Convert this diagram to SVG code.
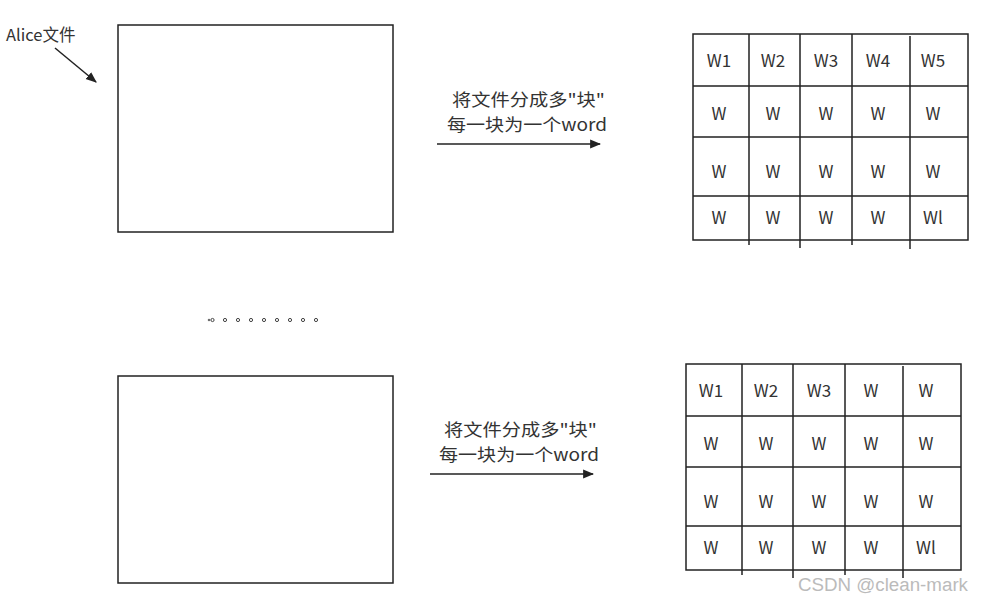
<svg xmlns="http://www.w3.org/2000/svg" width="982" height="602" viewBox="0 0 982 602">
<defs>
<style>
.box{fill:#fff;stroke:#222;stroke-width:1.5}
.ln{stroke:#222;stroke-width:1.5;fill:none}
.t{font-family:"Noto Sans CJK SC","Noto Sans",sans-serif;font-size:17px;fill:#333}
.lb{font-size:17px}
.c{text-anchor:middle;dominant-baseline:central}
.dot{fill:none;stroke:#444;stroke-width:1}
.wm{font-family:"Liberation Sans",Arial,sans-serif;font-size:18px;fill:#bbb}
</style>
<marker id="ah" viewBox="0 0 10 10" refX="9" refY="5" markerWidth="11" markerHeight="11" markerUnits="userSpaceOnUse" orient="auto">
<path d="M0,1 L10,5 L0,9 z" fill="#222"/>
</marker>
</defs>
<rect width="982" height="602" fill="#fff"/>

<g id="label-alice">
<text class="t" x="6" y="41" style="font-size:16.5px">Alice文件</text>
</g>

<g id="file1"><rect class="box" x="118" y="25" width="275" height="207"/></g>
<g id="file2"><rect class="box" x="118" y="376" width="275" height="207"/></g>

<g id="label1">
<text class="t lb" x="452" y="106" textLength="153" lengthAdjust="spacingAndGlyphs">将文件分成多"块"</text>
<text class="t lb" x="447" y="131" textLength="160" lengthAdjust="spacingAndGlyphs">每一块为一个word</text>
</g>
<g id="label2">
<text class="t lb" x="444" y="436" textLength="153" lengthAdjust="spacingAndGlyphs">将文件分成多"块"</text>
<text class="t lb" x="439" y="461" textLength="160" lengthAdjust="spacingAndGlyphs">每一块为一个word</text>
</g>

<g id="connectors">
<line class="ln" x1="55" y1="48" x2="96" y2="82" marker-end="url(#ah)"/>
<line class="ln" x1="437" y1="144" x2="600" y2="144" marker-end="url(#ah)"/>
<line class="ln" x1="430" y1="474" x2="593" y2="474" marker-end="url(#ah)"/>
</g>

<g id="dots">
<circle class="dot" cx="209" cy="320" r="0.8"/>
<circle class="dot" cx="212.5" cy="320" r="1.6"/>
<circle class="dot" cx="225" cy="320" r="1.6"/>
<circle class="dot" cx="238" cy="320" r="1.6"/>
<circle class="dot" cx="251" cy="320" r="1.6"/>
<circle class="dot" cx="264" cy="320" r="1.6"/>
<circle class="dot" cx="277" cy="320" r="1.6"/>
<circle class="dot" cx="290" cy="320" r="1.6"/>
<circle class="dot" cx="303" cy="320" r="1.6"/>
<circle class="dot" cx="316" cy="320" r="1.6"/>
</g>

<g id="grid1">
<rect class="box" x="693" y="34" width="275" height="206"/>
<path class="ln" d="M749,34V245M800,34V248M852,34V245M910,36V249M693,86H968M693,137H968M693,196H968"/>
<g class="t c">
<text x="719" y="59">W1</text><text x="773" y="59">W2</text><text x="826" y="59">W3</text><text x="878" y="59">W4</text><text x="933" y="59">W5</text>
<text x="719" y="112">W</text><text x="773" y="112">W</text><text x="826" y="112">W</text><text x="878" y="112">W</text><text x="933" y="112">W</text>
<text x="719" y="170">W</text><text x="773" y="170">W</text><text x="826" y="170">W</text><text x="878" y="170">W</text><text x="933" y="170">W</text>
<text x="719" y="216">W</text><text x="773" y="216">W</text><text x="826" y="216">W</text><text x="878" y="216">W</text><text x="933" y="216">Wl</text>
</g>
</g>

<g id="grid2">
<rect class="box" x="686" y="364" width="275" height="206"/>
<path class="ln" d="M742,364V575M793,364V578M845,364V575M903,366V578M686,416H961M686,467H961M686,526H961"/>
<g class="t c">
<text x="711" y="389">W1</text><text x="766" y="389">W2</text><text x="819" y="389">W3</text><text x="871" y="389">W</text><text x="926" y="389">W</text>
<text x="711" y="442">W</text><text x="766" y="442">W</text><text x="819" y="442">W</text><text x="871" y="442">W</text><text x="926" y="442">W</text>
<text x="711" y="500">W</text><text x="766" y="500">W</text><text x="819" y="500">W</text><text x="871" y="500">W</text><text x="926" y="500">W</text>
<text x="711" y="546">W</text><text x="766" y="546">W</text><text x="819" y="546">W</text><text x="871" y="546">W</text><text x="926" y="546">Wl</text>
</g>
</g>

<text class="wm" x="798" y="591" textLength="170" lengthAdjust="spacingAndGlyphs">CSDN @clean-mark</text>
</svg>
